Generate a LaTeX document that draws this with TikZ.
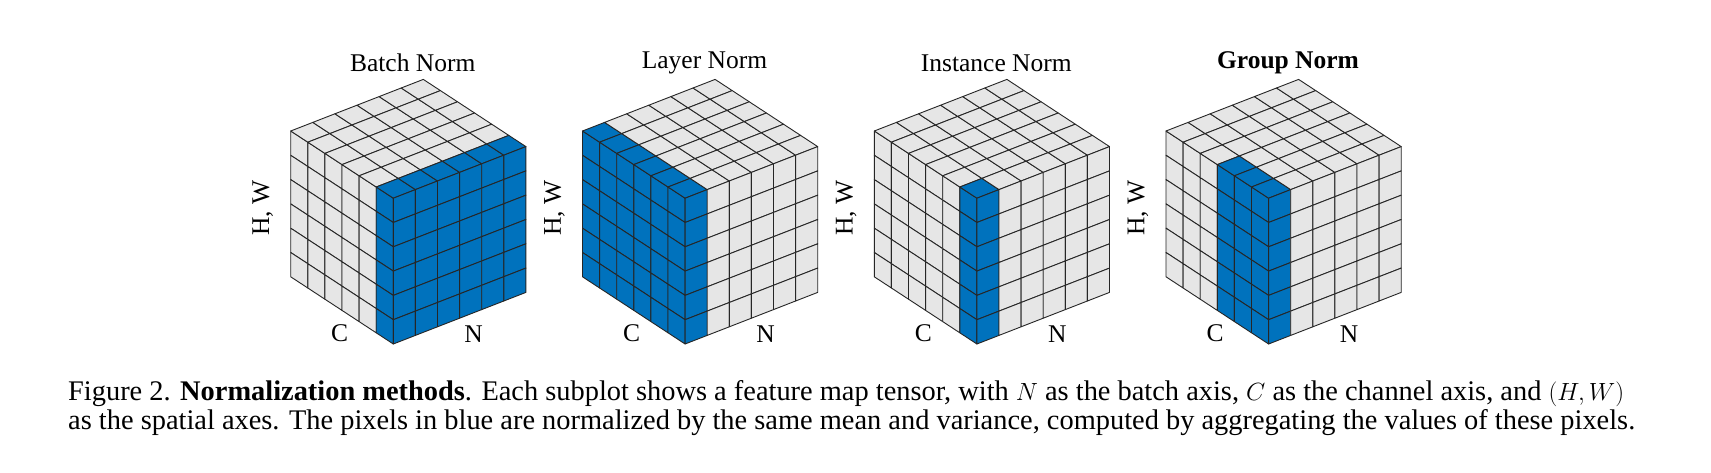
\documentclass[tikz,border=0pt]{standalone}
\usepackage{fontspec}
\setmainfont{Liberation Serif}
\usetikzlibrary{calc}
\definecolor{cgray}{HTML}{E6E6E6}
\definecolor{cblue}{HTML}{0072BD}
\tikzset{cell/.style={draw=black!85,line width=0.9pt,line join=round},
 lab/.style={font=\fontsize{25.5}{30}\selectfont,inner sep=0pt},
 captxt/.style={font=\fontsize{28.4}{34}\selectfont,inner sep=0pt,anchor=base west}}
\newcommand\cubeP[3]{($(L)+#1*(22.1,-8.6)+#2*(17.1,11.2)+#3*(0,24.3)$)}
% #1 x0, #2 nb, #3 cm
\newcommand\drawcube[3]{%
 \coordinate (L) at (#1,131);
 \foreach \c in {0,...,5}{\foreach \h in {0,...,5}{
   \pgfmathtruncatemacro\cc{\c+1}\pgfmathtruncatemacro\hh{\h+1}
   \ifnum\c<#3 \def\fc{cgray}\else\def\fc{cblue}\fi
   \fill[fill=\fc] \cubeP{0}{\c}{\h} -- \cubeP{0}{\cc}{\h} -- \cubeP{0}{\cc}{\hh} -- \cubeP{0}{\c}{\hh} -- cycle;
   \draw[cell] \cubeP{0}{\c}{\h} -- \cubeP{0}{\cc}{\h} -- \cubeP{0}{\cc}{\hh} -- \cubeP{0}{\c}{\hh} -- cycle;}}
 \foreach \n in {0,...,5}{\foreach \c in {0,...,5}{
   \pgfmathtruncatemacro\cc{\c+1}\pgfmathtruncatemacro\nn{\n+1}
   \def\fc{cgray}\ifnum\n<#2 \ifnum\c<#3 \else\def\fc{cblue}\fi\fi
   \fill[fill=\fc] \cubeP{\n}{\c}{0} -- \cubeP{\nn}{\c}{0} -- \cubeP{\nn}{\cc}{0} -- \cubeP{\n}{\cc}{0} -- cycle;
   \draw[cell] \cubeP{\n}{\c}{0} -- \cubeP{\nn}{\c}{0} -- \cubeP{\nn}{\cc}{0} -- \cubeP{\n}{\cc}{0} -- cycle;}}
 \foreach \n in {0,...,5}{\foreach \h in {0,...,5}{
   \pgfmathtruncatemacro\nn{\n+1}\pgfmathtruncatemacro\hh{\h+1}
   \ifnum\n<#2 \def\fc{cblue}\else\def\fc{cgray}\fi
   \fill[fill=\fc] \cubeP{\n}{6}{\h} -- \cubeP{\nn}{6}{\h} -- \cubeP{\nn}{6}{\hh} -- \cubeP{\n}{6}{\hh} -- cycle;
   \draw[cell] \cubeP{\n}{6}{\h} -- \cubeP{\nn}{6}{\h} -- \cubeP{\nn}{6}{\hh} -- \cubeP{\n}{6}{\hh} -- cycle;}}
}
\begin{document}
\begin{tikzpicture}[x=1pt,y=-1pt]
\useasboundingbox[fill=white] (0,0) rectangle (1711,473);
\drawcube{290.7}{6}{5}
\drawcube{582.5}{1}{0}
\drawcube{874.3}{1}{5}
\drawcube{1166}{1}{3}
\foreach \x/\t/\i in {290.7/Batch Norm/a,582.5/Layer Norm/b,874.3/Instance Norm/c,1166/\textbf{Group Norm}/d}{
 \node[lab] (t\i) at (\x+122,63) {\t};
 \node[lab,rotate=90] (hw\i) at (\x-28,208) {H, W};
 \node[lab] (c\i) at (\x+49,333) {C};
 \node[lab] (n\i) at (\x+183,334) {N};
}
\node[captxt] (cap1) at (68,400) {Figure 2. \textbf{Normalization methods}. Each subplot shows a feature map tensor, with $N$ as the batch axis, $C$ as the channel axis, and $(H,W)$};
\node[captxt] (cap2) at (68,429) {as the spatial axes. The pixels in blue are normalized by the same mean and variance, computed by aggregating the values of these pixels.};
\end{tikzpicture}
\end{document}
